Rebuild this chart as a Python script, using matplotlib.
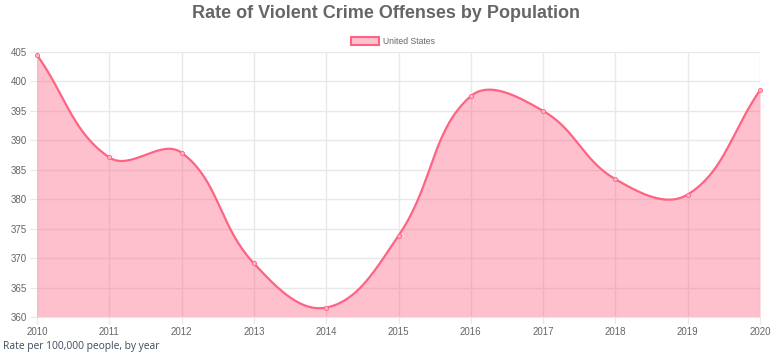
import numpy as np
import matplotlib
matplotlib.use('Agg')
import matplotlib.pyplot as plt
from matplotlib.patches import Rectangle

years = [2010, 2011, 2012, 2013, 2014, 2015, 2016, 2017, 2018, 2019, 2020]
rates = [404.5, 387.1, 387.9, 369.1, 361.6, 373.8, 397.5, 395.0, 383.4, 380.8, 398.5]
yticks = [360, 365, 370, 375, 380, 385, 390, 395, 400, 405]

line_col = '#ff6384'
grid_col = '#e8e8e8'
text_col = '#666666'
narrow = ['Liberation Sans Narrow', 'Liberation Sans']


def _spline(ax, xs, ys, tension=0.4, n=40):
    """Chart.js style bezier through the points, worked out in pixel space."""
    pts = ax.transData.transform(np.column_stack([xs, ys]))
    m = len(pts)
    cp_prev = pts.copy()
    cp_next = pts.copy()
    for i in range(m):
        p0 = pts[max(i - 1, 0)]
        p1 = pts[i]
        p2 = pts[min(i + 1, m - 1)]
        d01 = np.hypot(*(p1 - p0))
        d12 = np.hypot(*(p2 - p1))
        tot = d01 + d12
        s01 = d01 / tot if tot else 0
        s12 = d12 / tot if tot else 0
        cp_prev[i] = p1 - tension * s01 * (p2 - p0)
        cp_next[i] = p1 + tension * s12 * (p2 - p0)
    # keep control points inside the chart area
    bb = ax.bbox
    for c in (cp_prev, cp_next):
        c[:, 0] = np.clip(c[:, 0], bb.x0, bb.x1)
        c[:, 1] = np.clip(c[:, 1], bb.y0, bb.y1)
    t = np.linspace(0, 1, n)[:, None]
    out = []
    for i in range(m - 1):
        a, b, c, d = pts[i], cp_next[i], cp_prev[i + 1], pts[i + 1]
        seg = ((1 - t) ** 3) * a + 3 * ((1 - t) ** 2) * t * b + 3 * (1 - t) * t ** 2 * c + t ** 3 * d
        out.append(seg if i == 0 else seg[1:])
    out = np.vstack(out)
    data = ax.transData.inverted().transform(out)
    return data[:, 0], data[:, 1]


fig = plt.figure(figsize=(7.72, 3.6), dpi=100)
ax = fig.add_axes([37 / 772, 1 - 317 / 360, 723 / 772, 265 / 360])
ax.set_xlim(2010, 2020)
ax.set_ylim(360, 405)

sx, sy = _spline(ax, years, rates)
ax.fill_between(sx, sy, 360, color=line_col, alpha=0.4, linewidth=0, zorder=2)
ax.plot(sx, sy, color=line_col, linewidth=1.6, zorder=3, solid_capstyle='round')
ax.plot(years, rates, 'o', markersize=3, markerfacecolor='#ffb1c1',
        markeredgecolor=line_col, markeredgewidth=0.6, zorder=4, clip_on=False)

ax.set_xticks(years)
ax.set_yticks(yticks)
ax.set_xticklabels([str(y) for y in years])
ax.grid(True, color=grid_col, linewidth=1, zorder=0)
ax.set_axisbelow(True)
for s in ['top', 'right']:
    ax.spines[s].set_visible(False)
ax.spines['left'].set_color('#cfcfcf')
ax.spines['bottom'].set_color(grid_col)
ax.tick_params(axis='both', colors=grid_col, length=5, labelcolor=text_col,
               labelsize=7, pad=2)
for lab in ax.get_xticklabels() + ax.get_yticklabels():
    lab.set_family(narrow)

fig.text(0.5, 1 - 14 / 360, 'Rate of Violent Crime Offenses by Population',
         ha='center', va='center', fontsize=13, fontweight='bold',
         color=text_col, family=narrow)

# legend box like Chart.js
fig.patches.append(Rectangle((351 / 772, 1 - 45 / 360), 28 / 772, 8 / 360,
                             transform=fig.transFigure, facecolor='#ffc1ce',
                             edgecolor=line_col, linewidth=1.5))
fig.text(383 / 772, 1 - 41 / 360, 'United States', ha='left', va='center',
         fontsize=6.2, color=text_col, family=narrow)

fig.text(3 / 772, 1 - 346 / 360, 'Rate per 100,000 people, by year',
         ha='left', va='center', fontsize=7.4, color='#3e4a5e', family='Open Sans')

fig.savefig('out.png', dpi=100)
